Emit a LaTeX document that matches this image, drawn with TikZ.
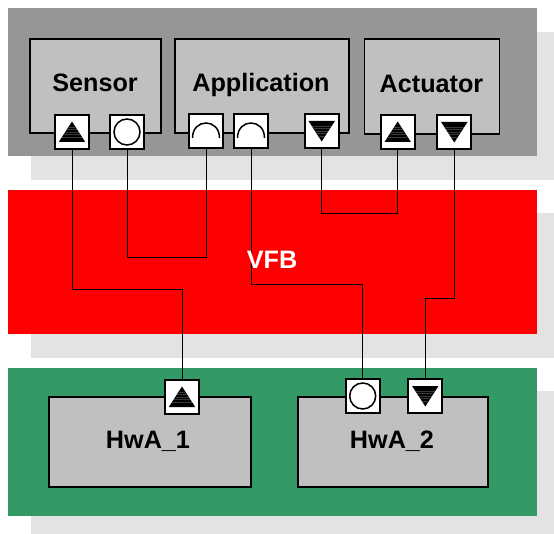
\documentclass[tikz,border=0pt]{standalone}
\usepackage{fontspec}
\setmainfont{Liberation Sans}
\usetikzlibrary{calc}
\definecolor{bandgray}{HTML}{969696}
\definecolor{boxgray}{HTML}{C0C0C0}
\definecolor{shadowgray}{HTML}{E3E3E3}
\definecolor{bandgreen}{HTML}{339966}
\definecolor{stripe}{HTML}{3A3A3A}
\tikzset{
  x=1pt,y=-1pt,
  band/.style={draw=none,rectangle,inner sep=0pt,anchor=north west},
  shadowband/.style={fill=shadowgray,draw=none},
  comp/.style={draw=black,line width=1.8pt,fill=boxgray,rectangle,inner sep=0pt,anchor=north west},
  port/.style={draw=black,line width=1.9pt,fill=white,rectangle,inner sep=0pt,minimum width=34pt,minimum height=34pt},
  wire/.style={draw=black,line width=1pt},
  glyph/.style={line width=1.5pt},
  tri/.style={fill=black,draw=none},
  stripeline/.style={draw=stripe,line width=0.3pt},
  lab/.style={font=\fontsize{25.2}{28}\selectfont\bfseries,inner sep=0pt,anchor=base},
}
\newcommand{\trimarks}[2]{%
  \fill[tri] ($(#1.center)+(0,#2*10.5)$) -- ($(#1.center)+(-13.2,-#2*10)$) -- ($(#1.center)+(13.2,-#2*10)$) -- cycle;
  \foreach \k in {-5,-2.5,0,2.5,5}{
    \pgfmathsetmacro{\hw}{13*(10-#2*\k)/20}
    \draw[stripeline] ($(#1.center)+(-\hw,\k)$) -- ($(#1.center)+(\hw,\k)$);
  }}
\newcommand{\circmark}[1]{\draw[glyph] (#1.center) circle[radius=13];}
\newcommand{\arcmark}[1]{\draw[glyph] ($(#1.center)+(-13.5,7)$) .. controls ($(#1.center)+(-13.5,-13)$) and ($(#1.center)+(13.5,-13)$) .. ($(#1.center)+(13.5,7)$);}
\begin{document}
\begin{tikzpicture}
\useasboundingbox (0,0) rectangle (554,534);
% shadows
\fill[shadowband] (31,32) rectangle (554,180);
\fill[shadowband] (31,213) rectangle (554,358);
\fill[shadowband] (31,391) rectangle (554,534);
% bands
\node[band,fill=bandgray,minimum width=529pt,minimum height=148pt] (top) at (8,8) {};
\node[band,fill=red,minimum width=529pt,minimum height=144pt] (vfb) at (8,190) {};
\node[band,fill=bandgreen,minimum width=529pt,minimum height=148pt] (bot) at (8,368) {};
% components
\node[comp,minimum width=130.5pt,minimum height=94pt] (sensor) at (29.3,38.2) {};
\node[comp,minimum width=173.5pt,minimum height=94pt] (app) at (174.2,38.2) {};
\node[comp,minimum width=135pt,minimum height=95pt] (act) at (363.6,38.2) {};
\node[comp,minimum width=202pt,minimum height=90pt] (hwa1) at (47.7,396) {};
\node[comp,minimum width=190pt,minimum height=90pt] (hwa2) at (296.8,396) {};
% ports
\node[port] (su) at (72,132) {};
\node[port] (sc) at (127,132) {};
\node[port] (a1) at (206,131) {};
\node[port] (a2) at (251,131) {};
\node[port] (ad) at (321.7,131) {};
\node[port] (cu) at (397.7,132) {};
\node[port] (cd) at (454.3,132) {};
\node[port] (hu) at (182,397) {};
\node[port] (hc) at (362.7,396) {};
\node[port] (hd) at (425.3,396) {};
% wires
\draw[wire] (su.south) -- (su.south |- 0,289.5) -| (hu.north);
\draw[wire] (sc.south) -- (sc.south |- 0,257.5) -| (a1.south);
\draw[wire] (a2.south) -- (a2.south |- 0,284.5) -| (hc.north);
\draw[wire] (ad.south) -- (ad.south |- 0,213.5) -| (cu.south);
\draw[wire] (cd.south) -- (cd.south |- 0,298.5) -| (hd.north);
% glyphs
\trimarks{su}{-1}
\trimarks{cu}{-1}
\trimarks{hu}{-1}
\trimarks{ad}{1}
\trimarks{cd}{1}
\trimarks{hd}{1}
\circmark{sc}
\circmark{hc}
\arcmark{a1}
\arcmark{a2}
% labels
\node[lab] (lsensor) at (95,92) {Sensor};
\node[lab] (lapp) at (261,92) {Application};
\node[lab] (lact) at (431.5,93) {Actuator};
\node[lab,text=white] (lvfb) at (272,269) {VFB};
\node[lab] (lh1) at (148,448.5) {HwA\_1};
\node[lab] (lh2) at (392,448.5) {HwA\_2};
\end{tikzpicture}
\end{document}
